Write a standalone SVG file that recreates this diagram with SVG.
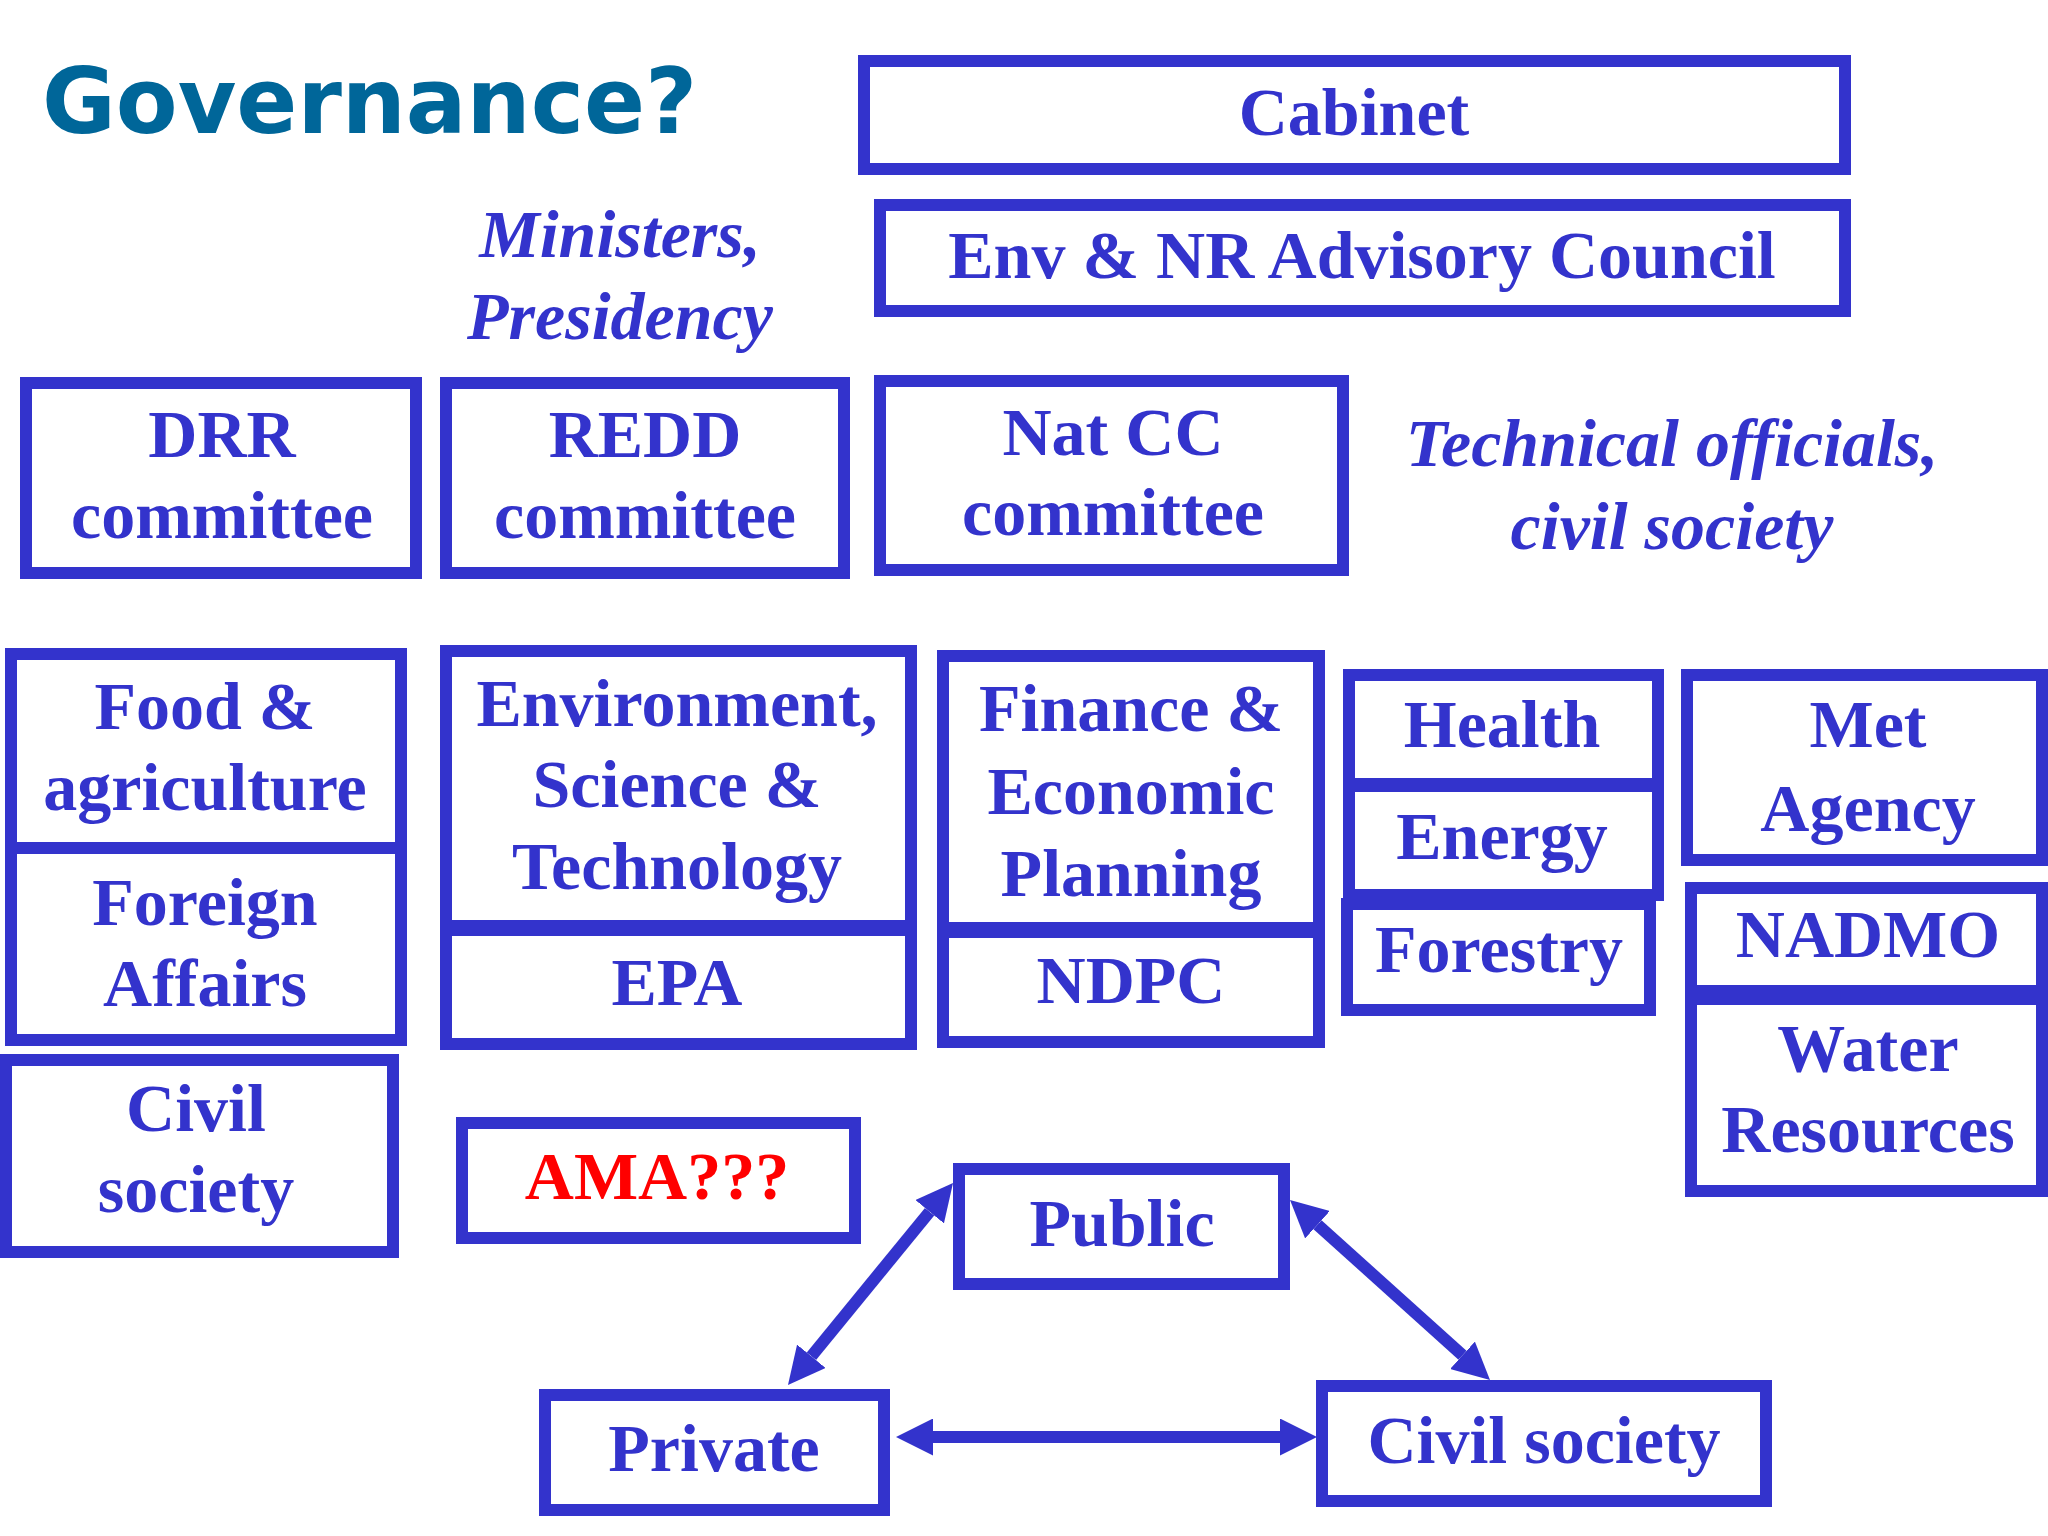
<svg xmlns="http://www.w3.org/2000/svg" width="2048" height="1536" viewBox="0 0 2048 1536">
<style>
.box{fill:none;stroke:#3333CC;stroke-width:12}
.t{font-family:"Liberation Serif","Times New Roman",serif;font-weight:bold;font-size:68px;fill:#3333CC;text-anchor:middle}
.i{font-style:italic}
.red{fill:#FF0000}
.title{font-family:"DejaVu Sans",Verdana,sans-serif;font-weight:bold;font-size:90px;fill:#006699}
.arr{stroke:#3333CC;stroke-width:12;fill:none;marker-start:url(#ah);marker-end:url(#ah)}
</style>
<defs>
<marker id="ah" markerUnits="userSpaceOnUse" viewBox="0 0 37 37" markerWidth="37" markerHeight="37" refX="0" refY="18.5" orient="auto-start-reverse">
<path d="M0,0 L37,18.5 L0,37 z" fill="#3333CC"/>
</marker>
</defs>
<rect width="2048" height="1536" fill="#ffffff"/>
<text class="title" x="42" y="133">Governance?</text>
<text class="t i" x="620" y="257">Ministers,</text>
<text class="t i" x="620" y="339">Presidency</text>
<text class="t i" x="1672" y="466">Technical officials,</text>
<text class="t i" x="1672" y="549">civil society</text>

<g id="cabinet"><rect class="box" x="864" y="61" width="981" height="108"/><text class="t" x="1354" y="135">Cabinet</text></g>
<g id="advisory"><rect class="box" x="880" y="205" width="965" height="106"/><text class="t" x="1362" y="278">Env &amp; NR Advisory Council</text></g>
<g id="drr"><rect class="box" x="26" y="383" width="390" height="190"/><text class="t" x="222" y="457">DRR</text><text class="t" x="222" y="538">committee</text></g>
<g id="redd"><rect class="box" x="446" y="383" width="398" height="190"/><text class="t" x="645" y="457">REDD</text><text class="t" x="645" y="538">committee</text></g>
<g id="natcc"><rect class="box" x="880" y="381" width="463" height="189"/><text class="t" x="1113" y="455">Nat CC</text><text class="t" x="1113" y="535">committee</text></g>

<g id="food"><rect class="box" x="11" y="654" width="390" height="194"/><text class="t" x="205" y="729">Food &amp;</text><text class="t" x="205" y="810">agriculture</text></g>
<g id="foreign"><rect class="box" x="11" y="848" width="390" height="192"/><text class="t" x="205" y="925">Foreign</text><text class="t" x="205" y="1006">Affairs</text></g>
<g id="civil-left"><rect class="box" x="6" y="1060" width="387" height="192"/><text class="t" x="196" y="1131">Civil</text><text class="t" x="196" y="1212">society</text></g>

<g id="env"><rect class="box" x="446" y="651" width="465" height="275"/><text class="t" x="677" y="726">Environment,</text><text class="t" x="677" y="807">Science &amp;</text><text class="t" x="677" y="889">Technology</text></g>
<g id="epa"><rect class="box" x="446" y="930" width="465" height="114"/><text class="t" x="677" y="1005">EPA</text></g>

<g id="finance"><rect class="box" x="943" y="656" width="376" height="272"/><text class="t" x="1131" y="731">Finance &amp;</text><text class="t" x="1131" y="814">Economic</text><text class="t" x="1131" y="896">Planning</text></g>
<g id="ndpc"><rect class="box" x="943" y="932" width="376" height="110"/><text class="t" x="1131" y="1003">NDPC</text></g>

<g id="health"><rect class="box" x="1349" y="675" width="309" height="109"/><text class="t" x="1502" y="747">Health</text></g>
<g id="energy"><rect class="box" x="1349" y="786" width="309" height="109"/><text class="t" x="1502" y="859">Energy</text></g>
<g id="forestry"><rect class="box" x="1347" y="904" width="303" height="106"/><text class="t" x="1499" y="972">Forestry</text></g>

<g id="met"><rect class="box" x="1687" y="675" width="355" height="185"/><text class="t" x="1868" y="747">Met</text><text class="t" x="1868" y="831">Agency</text></g>
<g id="nadmo"><rect class="box" x="1691" y="888" width="351" height="103"/><text class="t" x="1868" y="957">NADMO</text></g>
<g id="water"><rect class="box" x="1691" y="999" width="351" height="192"/><text class="t" x="1868" y="1071">Water</text><text class="t" x="1868" y="1152">Resources</text></g>

<g id="ama"><rect class="box" x="462" y="1123" width="393" height="115"/><text class="t red" x="657" y="1199">AMA???</text></g>
<g id="public"><rect class="box" x="959" y="1169" width="325" height="115"/><text class="t" x="1122" y="1246">Public</text></g>
<g id="private"><rect class="box" x="545" y="1395" width="339" height="115"/><text class="t" x="714" y="1471">Private</text></g>
<g id="civil-bottom"><rect class="box" x="1322" y="1386" width="444" height="115"/><text class="t" x="1544" y="1463">Civil society</text></g>

<g id="connectors">
<line class="arr" x1="811.4" y1="1356.3" x2="929.6" y2="1211.7"/>
<line class="arr" x1="1317.5" y1="1224.7" x2="1462.5" y2="1355.3"/>
<line class="arr" x1="933" y1="1437" x2="1280" y2="1437"/>
</g>
</svg>
